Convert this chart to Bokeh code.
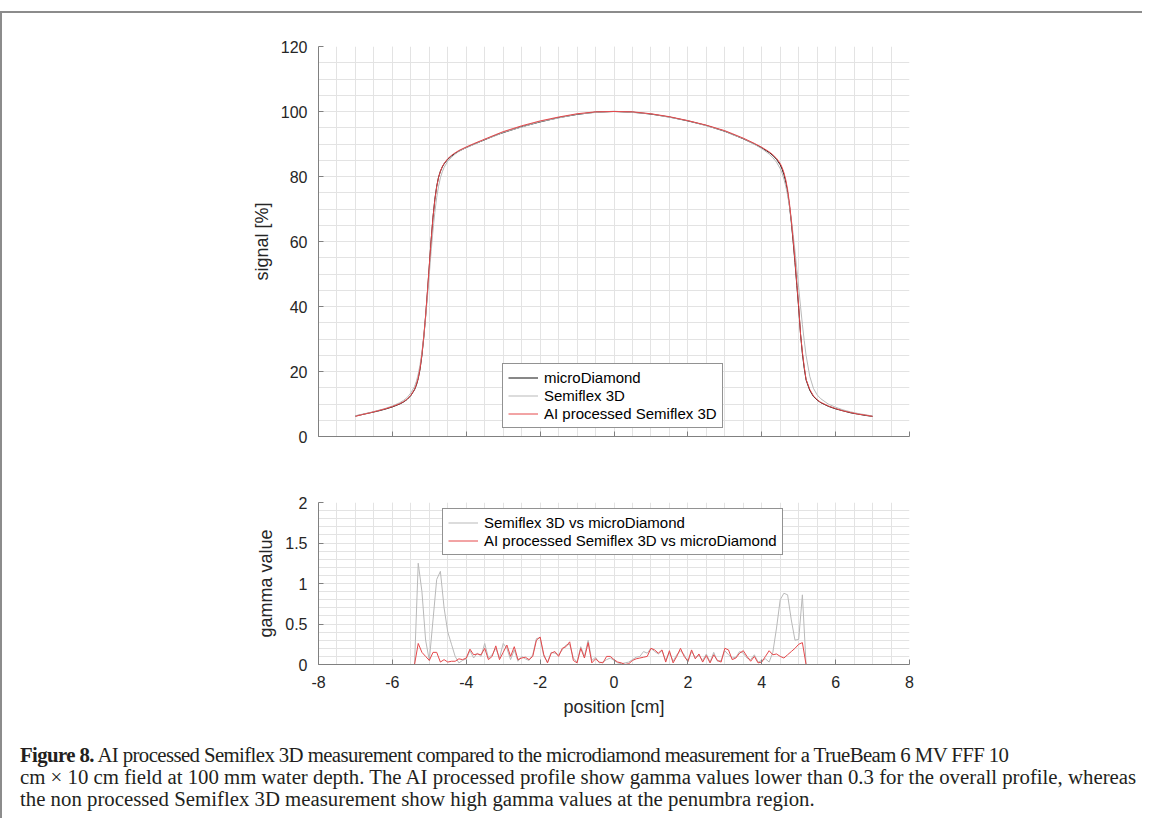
from bokeh.plotting import figure
from bokeh.models import Range1d, FixedTicker, Legend, LegendItem, Div
from bokeh.layouts import column, row
from bokeh.embed import file_html
from bokeh.resources import INLINE

# ---------------- data ----------------
pos = [-7.0, -6.8, -6.6, -6.4, -6.2, -6.0, -5.8, -5.7, -5.6, -5.5, -5.4, -5.35, -5.3, -5.25,
       -5.2, -5.15, -5.1, -5.05, -5.0, -4.95, -4.9, -4.85, -4.8, -4.75, -4.7, -4.65, -4.6,
       -4.5, -4.4, -4.3, -4.2, -4.0, -3.8, -3.5, -3.2, -3.0, -2.5, -2.0, -1.5, -1.0, -0.5,
       0.0, 0.5, 1.0, 1.5, 2.0, 2.5, 3.0, 3.2, 3.5, 3.8, 4.0, 4.2, 4.3, 4.4, 4.5, 4.55, 4.6,
       4.65, 4.7, 4.75, 4.8, 4.85, 4.9, 4.95, 5.0, 5.05, 5.1, 5.15, 5.2, 5.3, 5.4, 5.5, 5.6,
       5.8, 6.0, 6.2, 6.4, 6.6, 6.8, 7.0]

micro_diamond = [6.3, 6.8, 7.3, 7.8, 8.4, 9.1, 10.0, 10.6, 11.4, 12.6, 14.4, 15.8, 17.8, 20.8,
                 25.0, 30.5, 37.0, 44.5, 52.5, 60.5, 67.5, 73.0, 77.0, 79.8, 81.6, 82.9, 83.9,
                 85.3, 86.3, 87.1, 87.8, 88.9, 89.9, 91.3, 92.7, 93.5, 95.3, 96.8, 98.1, 99.1, 99.8,
                 100.0, 99.8, 99.2, 98.3, 97.1, 95.7, 93.9, 93.0, 91.6, 90.0, 88.8, 87.4, 86.5, 85.3,
                 83.6, 82.3, 80.6, 78.3, 75.2, 71.0, 66.0, 60.0, 53.5, 46.5, 39.5, 31.5, 25.5, 21.0,
                 17.4, 14.2, 12.3, 11.2, 10.4, 9.3, 8.5, 7.9, 7.3, 6.9, 6.5, 6.2]

semiflex = [6.4, 6.9, 7.4, 8.0, 8.6, 9.4, 10.4, 11.1, 12.0, 13.4, 15.4, 17.0, 19.2, 22.2,
            26.0, 30.8, 36.5, 43.0, 50.0, 57.0, 63.5, 69.0, 73.5, 77.0, 79.6, 81.4, 82.8,
            84.7, 85.9, 86.9, 87.7, 88.9, 89.8, 91.4, 92.6, 93.6, 95.2, 96.9, 98.0, 99.2, 99.7,
            100.1, 99.7, 99.3, 98.2, 97.2, 95.6, 94.0, 92.9, 91.7, 89.9, 88.6, 86.9, 85.8, 84.4,
            82.4, 81.0, 79.2, 77.0, 74.2, 70.8, 66.8, 62.2, 57.0, 51.5, 45.8, 40.0, 34.5, 29.5,
            25.0, 18.5, 14.8, 12.8, 11.6, 10.0, 9.0, 8.2, 7.6, 7.1, 6.7, 6.3]

ai_semiflex = [6.2, 6.8, 7.3, 7.9, 8.5, 9.2, 10.1, 10.7, 11.5, 12.7, 14.5, 16.0, 18.0, 21.0,
               25.3, 30.8, 37.3, 44.8, 52.8, 60.6, 67.4, 72.8, 76.8, 79.7, 81.6, 83.0, 84.0,
               85.5, 86.5, 87.3, 88.0, 89.1, 90.1, 91.5, 92.9, 93.8, 95.6, 97.1, 98.3, 99.3, 99.9,
               100.0, 99.9, 99.3, 98.4, 97.2, 95.8, 94.1, 93.2, 91.8, 90.2, 89.0, 87.6, 86.7, 85.6,
               84.0, 82.8, 81.2, 79.0, 76.0, 71.8, 66.6, 60.5, 54.0, 47.0, 40.0, 31.5, 26.0, 21.5,
               17.6, 14.5, 12.5, 11.3, 10.5, 9.4, 8.6, 7.9, 7.4, 6.9, 6.6, 6.2]

# gamma evaluated on a 0.1 cm grid from -7 cm to 7 cm
gamma_pos = [round(-7.0 + 0.1 * i, 1) for i in range(141)]

gamma_semiflex = ([0.0] * 16 +
    [0.0, 1.25, 0.90, 0.30, 0.05, 0.55, 1.05, 1.15, 0.70, 0.40, 0.25, 0.10, 0.02, 0.05, 0.07,
     0.17, 0.08, 0.14, 0.10, 0.26, 0.08, 0.12, 0.20, 0.08, 0.26, 0.20, 0.06, 0.18, 0.04, 0.10,
     0.07, 0.05, 0.12, 0.32, 0.33, 0.10, 0.03, 0.15, 0.14, 0.12, 0.18, 0.24, 0.25, 0.08, 0.03,
     0.22, 0.10, 0.30, 0.05, 0.09, 0.02, 0.03, 0.06, 0.08,
     0.05, 0.02, 0.01, 0.02, 0.03, 0.06, 0.09, 0.10, 0.16, 0.14, 0.20, 0.16, 0.13, 0.17, 0.05,
     0.15, 0.04, 0.12, 0.17, 0.12, 0.03, 0.16, 0.09, 0.11, 0.05, 0.13, 0.03, 0.15, 0.04, 0.05,
     0.17, 0.12, 0.08, 0.09, 0.16, 0.14, 0.08, 0.06, 0.12, 0.03, 0.05, 0.07, 0.03, 0.15, 0.45,
     0.80, 0.88, 0.86, 0.55, 0.30, 0.31, 0.86, 0.0] +
    [0.0] * 18)

gamma_ai = ([0.0] * 16 +
    [0.0, 0.26, 0.15, 0.10, 0.05, 0.15, 0.15, 0.03, 0.06, 0.03, 0.04, 0.04, 0.07, 0.06, 0.08,
     0.19, 0.12, 0.13, 0.12, 0.20, 0.06, 0.10, 0.23, 0.06, 0.15, 0.24, 0.10, 0.22, 0.06, 0.08,
     0.09, 0.06, 0.10, 0.30, 0.34, 0.12, 0.02, 0.14, 0.16, 0.10, 0.20, 0.22, 0.28, 0.05, 0.02,
     0.20, 0.08, 0.27, 0.02, 0.07, 0.03, 0.02, 0.10, 0.10,
     0.06, 0.03, 0.02, 0.00, 0.01, 0.05, 0.07, 0.08, 0.09, 0.10, 0.20, 0.18, 0.14, 0.18, 0.03,
     0.17, 0.02, 0.10, 0.20, 0.10, 0.04, 0.18, 0.07, 0.13, 0.03, 0.11, 0.02, 0.12, 0.05, 0.03,
     0.20, 0.18, 0.06, 0.08, 0.14, 0.17, 0.10, 0.04, 0.10, 0.02, 0.03, 0.10, 0.17, 0.12, 0.13,
     0.10, 0.08, 0.12, 0.16, 0.20, 0.25, 0.27, 0.0] +
    [0.0] * 18)

x_ticks = [-8, -6, -4, -2, 0, 2, 4, 6, 8]
x_tick_labels = ["-8", "-6", "-4", "-2", "0", "2", "4", "6", "8"]
x_minor = [-8 + 0.5 * k for k in range(33)]
sig_ticks = [0, 20, 40, 60, 80, 100, 120]
sig_minor = [5 * k for k in range(25)]
gam_ticks = [0, 0.5, 1, 1.5, 2]
gam_minor = [round(0.1 * k, 1) for k in range(21)]

# ---------------- styling ----------------
FONT = "Liberation Sans"
TXT = "#262626"
AXL = "#808080"
GRID = "#e3e3e3"
C_MD = "#111111"
C_SF = "#b9b9b9"
C_AI = "#e5484b"


def style(p, yt, ym):
    p.xaxis.ticker = FixedTicker(ticks=x_ticks, minor_ticks=x_minor)
    p.yaxis.ticker = FixedTicker(ticks=yt, minor_ticks=ym)
    for ax in p.axis:
        ax.axis_line_color = AXL
        ax.axis_line_width = 1
        ax.major_tick_in = 5
        ax.major_tick_out = 0
        ax.major_tick_line_color = AXL
        ax.minor_tick_line_color = None
        ax.major_label_text_font = FONT
        ax.major_label_text_font_size = "16px"
        ax.major_label_text_color = TXT
        ax.major_label_standoff = 7
        ax.axis_label_text_font = FONT
        ax.axis_label_text_font_size = "18px"
        ax.axis_label_text_font_style = "normal"
        ax.axis_label_text_color = TXT
        ax.axis_label_standoff = 6
    for g in p.grid:
        g.grid_line_color = GRID
        g.minor_grid_line_color = GRID
    p.outline_line_color = None
    p.background_fill_color = "white"
    p.border_fill_color = "white"


def legend(items, loc):
    lg = Legend(items=items, location=loc)
    lg.border_line_color = "#262626"
    lg.border_line_width = 1
    lg.background_fill_color = "white"
    lg.background_fill_alpha = 1.0
    lg.label_text_font = FONT
    lg.label_text_font_size = "15px"
    lg.label_text_color = "#000000"
    lg.glyph_width = 30
    lg.glyph_height = 17
    lg.label_height = 17
    lg.spacing = 1
    lg.padding = 5
    lg.margin = 0
    lg.label_standoff = 6
    return lg


# ---------------- top plot ----------------
p1 = figure(frame_width=591, frame_height=390, min_border_left=316, min_border_right=233,
            min_border_top=33, min_border_bottom=30, x_range=Range1d(-8, 8),
            y_range=Range1d(0, 120), output_backend="svg", toolbar_location=None)
style(p1, sig_ticks, sig_minor)
p1.yaxis.axis_label = "signal [%]"
p1.xaxis.major_label_text_color = None
r_md = p1.line(pos, micro_diamond, line_color=C_MD, line_width=1)
r_sf = p1.line(pos, semiflex, line_color=C_SF, line_width=1)
r_ai = p1.line(pos, ai_semiflex, line_color=C_AI, line_width=1)
p1.add_layout(legend([LegendItem(label="microDiamond", renderers=[r_md]),
                      LegendItem(label="Semiflex 3D", renderers=[r_sf]),
                      LegendItem(label="AI processed Semiflex 3D", renderers=[r_ai])],
                     (184, 8)))

# ---------------- bottom plot ----------------
p2 = figure(frame_width=591, frame_height=162, min_border_left=316, min_border_right=233,
            min_border_top=36, min_border_bottom=64, x_range=Range1d(-8, 8),
            y_range=Range1d(0, 2), output_backend="svg", toolbar_location=None)
style(p2, gam_ticks, gam_minor)
p2.yaxis.axis_label = "gamma value"
p2.xaxis.axis_label = "position [cm]"
p2.xaxis.major_label_overrides = dict(zip(x_ticks, x_tick_labels))
g1 = p2.line(gamma_pos, gamma_semiflex, line_color=C_SF, line_width=1)
g2 = p2.line(gamma_pos, gamma_ai, line_color=C_AI, line_width=1)
p2.add_layout(legend([LegendItem(label="Semiflex 3D vs microDiamond", renderers=[g1]),
                      LegendItem(label="AI processed Semiflex 3D vs microDiamond", renderers=[g2])],
                     (124, 109)))

caption_html = (
    '<div style="font-family:\'Liberation Serif\';font-size:20.8px;line-height:22px;'
    'color:#231f20;padding:16px 0 0 18px;white-space:nowrap;">'
    '<span style="letter-spacing:-0.6px;"><b>Figure 8.</b> AI processed Semiflex 3D measurement '
    'compared to the microdiamond measurement for a TrueBeam 6 MV FFF 10</span><br>'
    'cm &times; 10 cm field at 100 mm water depth. The AI processed profile show gamma values '
    'lower than 0.3 for the overall profile, whereas<br>'
    'the non processed Semiflex 3D measurement show high gamma values at the penumbra region.'
    '</div>')
cap = Div(text=caption_html, width=1140, height=90, margin=0)

frame_col = "#8c8c8c"
top_gap = Div(text="", width=1142, height=11, margin=0)
top_line = Div(text="", width=1142, height=2, margin=0, styles={"background-color": frame_col})
left_line = Div(text="", width=2, height=805, margin=0, styles={"background-color": frame_col})

layout = column(top_gap, top_line, row(left_line, column(p1, p2, cap, spacing=0), spacing=0),
                spacing=0)

open("out.html", "w").write(file_html(layout, INLINE))
